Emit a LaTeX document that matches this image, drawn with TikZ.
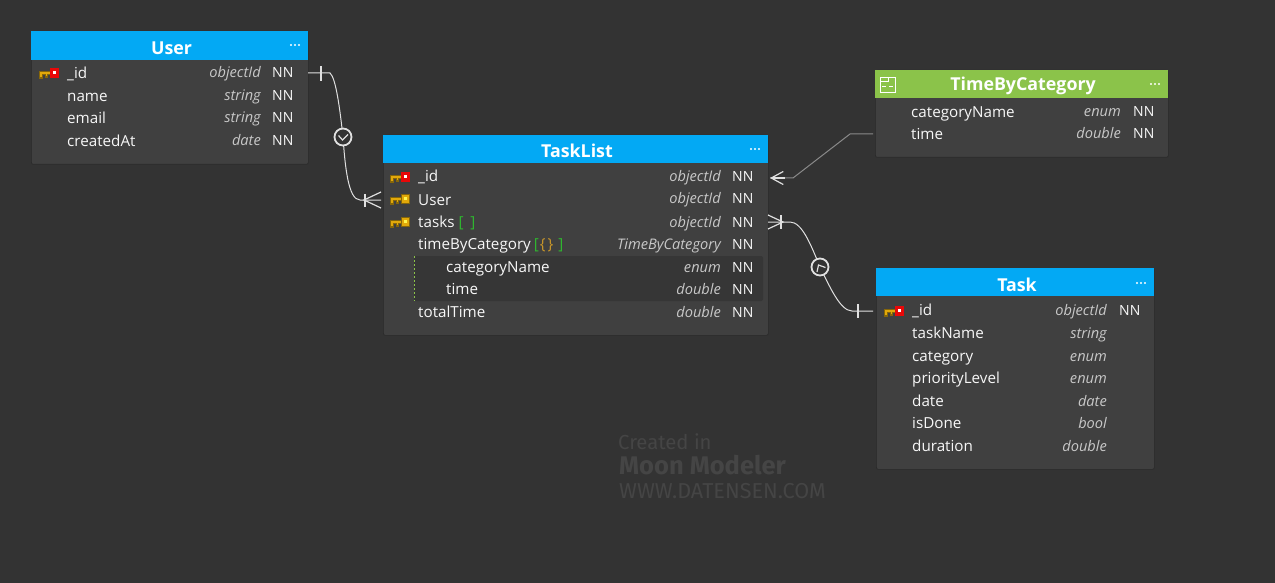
\documentclass[tikz,border=0pt]{standalone}
\usepackage{fontspec}
\setmainfont{Open Sans}
\newfontfamily\markfont{Fira Sans}
\usetikzlibrary{calc,positioning,arrows.meta}
\definecolor{canvas}{HTML}{333333}
\definecolor{tablebody}{HTML}{404040}
\definecolor{tableedge}{HTML}{2A2A2A}
\definecolor{nestpanel}{HTML}{363636}
\definecolor{hdrblue}{HTML}{03A9F4}
\definecolor{hdrgreen}{HTML}{8BC34A}
\definecolor{rowtext}{HTML}{F7F7F7}
\definecolor{typetext}{HTML}{C8C8C8}
\definecolor{relline}{HTML}{E0E0E0}
\definecolor{refline}{HTML}{8A8A8A}
\definecolor{brgreen}{HTML}{2FB62F}
\definecolor{brgold}{HTML}{C8962A}
\definecolor{keygold}{HTML}{E2A90A}
\definecolor{keydark}{HTML}{86660A}
\definecolor{keyred}{HTML}{E80808}
\definecolor{watermark}{HTML}{454545}
\tikzset{
  tablebox/.style={draw=tableedge,line width=0.7pt,fill=tablebody,rounded corners=2pt,anchor=north west,inner sep=0pt},
  header/.style={anchor=north west,inner sep=0pt},
  title/.style={text=white,font=\fontsize{17.8}{20}\selectfont\bfseries,inner sep=0pt},
  colname/.style={anchor=base west,inner sep=0pt,text=rowtext,font=\fontsize{15.2}{18}\selectfont},
  coltype/.style={anchor=base east,inner sep=0pt,text=typetext,font=\fontsize{14.6}{18}\selectfont\itshape},
  colnn/.style={anchor=base west,inner sep=0pt,text=rowtext,font=\fontsize{14}{18}\selectfont},
  optmark/.style={circle,draw=relline,line width=1.8pt,fill=canvas,minimum size=17pt,inner sep=0pt},
  rel/.style={draw=relline,line width=1pt},
  cardmark/.style={draw=relline,line width=1.2pt},
  pics/keybase/.style={code={
    \fill[keydark] (0,-2) rectangle (13,2);
    \fill[keydark] (0,2) rectangle (4,6);
    \fill[keydark] (6,2) rectangle (9,5);
    \fill[keygold] (1,-1) rectangle (12,1);
    \fill[keygold] (1,1) rectangle (3,4);
    \fill[keygold] (7,1) rectangle (8,3);
  }},
  pics/keypk/.style={code={
    \pic {keybase};
    \fill[keyred] (11,-5) rectangle (20,5);
    \fill[white] (14,-2) rectangle (17,1);
  }},
  pics/keyfk/.style={code={
    \pic {keybase};
    \fill[keydark] (11,-5) rectangle (20,5);
    \fill[keygold] (12,-4) rectangle (19,4);
    \fill[yellow!70!white] (14,-2) rectangle (17,1);
  }},
  pics/menudots/.style={code={
    \fill[white] (-4,0) circle (1.1pt);
    \fill[white] (0,0) circle (1.1pt);
    \fill[white] (4,0) circle (1.1pt);
  }}
}

\begin{document}
\begin{tikzpicture}[x=1pt,y=-1pt]
        \fill[canvas] (0,0) rectangle (1275,583);
        \useasboundingbox (0,0) rectangle (1275,583);

        % watermark
        \node (markA) at (618,449) [anchor=base west,inner sep=0pt,text=watermark,font=\markfont\fontsize{20.3}{24}\selectfont] {Created in};
        \node (markB) at (619,474) [anchor=base west,inner sep=0pt,text=watermark,font=\markfont\fontsize{25.5}{28}\selectfont\bfseries] {Moon Modeler};
        \node (markC) at (619,498) [anchor=base west,inner sep=0pt,text=watermark,font=\markfont\fontsize{21.6}{24}\selectfont] {WWW.DATENSEN.COM};

        % tables
        \node (User) at (31,31) [tablebox,minimum width=277pt,minimum height=133pt] {};
        \node (UserHead) at (31,31) [header,fill=hdrblue,minimum width=277pt,minimum height=29pt] {};
        \node (UserTitle) at (171.5,48) [title] {User};
        \pic at (295,45) {menudots};

        \node (TaskList) at (383,135) [tablebox,minimum width=385pt,minimum height=200pt] {};
        \node (TaskListHead) at (383,135) [header,fill=hdrblue,minimum width=385pt,minimum height=28pt] {};
        \node (TaskListTitle) at (577,151) [title] {TaskList};
        \pic at (755,149) {menudots};

        \node (TimeCat) at (875,70) [tablebox,minimum width=293pt,minimum height=87pt] {};
        \node (TimeCatHead) at (875,70) [header,fill=hdrgreen,minimum width=293pt,minimum height=28pt] {};
        \node (TimeCatTitle) at (1023,86) [title] {TimeByCategory};
        \pic at (1155,84) {menudots};

        \node (Task) at (876,268) [tablebox,minimum width=278pt,minimum height=201pt] {};
        \node (TaskHead) at (876,268) [header,fill=hdrblue,minimum width=278pt,minimum height=28pt] {};
        \node (TaskTitle) at (1017,285) [title] {Task};
        \pic at (1141,283) {menudots};

        % embedded type icon
        \draw[white,line width=0.8pt] (880,77) rectangle (895,92);
        \draw[white,line width=0.8pt] (880,81) -- (888,81) -- (888,77);
        \draw[white,line width=0.8pt] (882,86) -- (886,86) (889,86) -- (893,86);

        % User rows
        \pic at (39,73) {keypk};
        \node (UserId) at (67,79) [colname] {\_id};
        \node (UserIdT) at (261,78) [coltype] {objectId};
        \node (UserIdN) at (272,78) [colnn] {NN};
        \node (UserName) at (67,102) [colname] {name};
        \node (UserNameT) at (261,101) [coltype] {string};
        \node (UserNameN) at (272,101) [colnn] {NN};
        \node (UserMail) at (67,124) [colname] {email};
        \node (UserMailT) at (261,123) [coltype] {string};
        \node (UserMailN) at (272,123) [colnn] {NN};
        \node (UserAt) at (67,147) [colname] {createdAt};
        \node (UserAtT) at (261,146) [coltype] {date};
        \node (UserAtN) at (272,146) [colnn] {NN};

        % TaskList rows
        \fill[nestpanel,rounded corners=2pt] (414,256) rectangle (763,301);
        \draw[hdrgreen,dash pattern=on 2pt off 2pt,line width=0.8pt] (414,256) -- (414,301);
        \pic at (390,177) {keypk};
        \pic at (390,199) {keyfk};
        \pic at (390,222) {keyfk};
        \node (ListId) at (418,182) [colname] {\_id};
        \node (ListIdT) at (721,182) [coltype] {objectId};
        \node (ListIdN) at (732,182) [colnn] {NN};
        \node (ListUser) at (418,205) [colname] {User};
        \node (ListUserT) at (721,204) [coltype] {objectId};
        \node (ListUserN) at (732,204) [colnn] {NN};
        \node (ListTasks) at (418,227) [colname] {tasks\hspace{4pt}{\color{brgreen}[\hspace{7pt}]}};
        \node (ListTasksT) at (721,227) [coltype] {objectId};
        \node (ListTasksN) at (732,227) [colnn] {NN};
        \node (ListCat) at (418,249) [colname] {timeByCategory\hspace{3pt}{\color{brgreen}[}\hspace{1pt}{\color{brgold}\{\hspace{2pt}\}}\hspace{5pt}{\color{brgreen}]}};
        \node (ListCatT) at (721,249) [coltype] {TimeByCategory};
        \node (ListCatN) at (732,249) [colnn] {NN};
        \node (ListSubA) at (446,272) [colname] {categoryName};
        \node (ListSubAT) at (721,272) [coltype] {enum};
        \node (ListSubAN) at (732,272) [colnn] {NN};
        \node (ListSubB) at (446,294) [colname] {time};
        \node (ListSubBT) at (721,294) [coltype] {double};
        \node (ListSubBN) at (732,294) [colnn] {NN};
        \node (ListTotal) at (418,317) [colname] {totalTime};
        \node (ListTotalT) at (721,317) [coltype] {double};
        \node (ListTotalN) at (732,317) [colnn] {NN};

        % TimeByCategory rows
        \node (CatName) at (911,118) [colname] {categoryName};
        \node (CatNameT) at (1121,117) [coltype] {enum};
        \node (CatNameN) at (1133,117) [colnn] {NN};
        \node (CatTime) at (911,140) [colname] {time};
        \node (CatTimeT) at (1121,139) [coltype] {double};
        \node (CatTimeN) at (1133,139) [colnn] {NN};

        % Task rows
        \pic at (884,311) {keypk};
        \node (TaskId) at (912,315) [colname] {\_id};
        \node (TaskIdT) at (1107,315) [coltype] {objectId};
        \node (TaskIdN) at (1119,315) [colnn] {NN};
        \node (TaskName) at (912,338) [colname] {taskName};
        \node (TaskNameT) at (1107,338) [coltype] {string};
        \node (TaskCat) at (912,361) [colname] {category};
        \node (TaskCatT) at (1107,361) [coltype] {enum};
        \node (TaskPrio) at (912,383) [colname] {priorityLevel};
        \node (TaskPrioT) at (1107,383) [coltype] {enum};
        \node (TaskDate) at (912,406) [colname] {date};
        \node (TaskDateT) at (1107,406) [coltype] {date};
        \node (TaskDone) at (912,428) [colname] {isDone};
        \node (TaskDoneT) at (1107,428) [coltype] {bool};
        \node (TaskDur) at (912,451) [colname] {duration};
        \node (TaskDurT) at (1107,451) [coltype] {double};

        % ports
        \coordinate (UserPort) at (308,73);
        \coordinate (ListUserPort) at (381,200);
        \coordinate (ListIdPort) at (770,178);
        \coordinate (CatTimePort) at (873,134);
        \coordinate (ListTasksPort) at (768,222);
        \coordinate (TaskIdPort) at (873,311);

        % optional marks
        \coordinate (OptAc) at (343,137);
        \coordinate (OptBc) at (820,267);

        % relations
        \draw[rel] (UserPort) -- (330,73) .. controls (336,78) and (340,110) .. (OptAc);
        \draw[rel] (OptAc) .. controls (345,165) and (348,200) .. (360,200) -- (ListUserPort);
        \draw[rel] (ListTasksPort) -- (790,222) .. controls (802,222) and (811,245) .. (OptBc);
        \draw[rel] (OptBc) .. controls (829,285) and (840,311) .. (852,311) -- (TaskIdPort);
        \draw[draw=refline,line width=1pt] (CatTimePort) -- (850,134) -- (793,178) -- (ListIdPort);
        \draw[cardmark,-{Straight Barb[length=12pt,width=13pt]}] (785,178) -- (ListIdPort);

        \node (OptA) at (OptAc) [optmark] {};
        \node (OptB) at (OptBc) [optmark] {};
        \draw[cardmark] ($(OptA)+(-4.5,-1.5)$) -- ($(OptA)+(-0.5,3)$) -- ($(OptA)+(5,-2.5)$);
        \draw[cardmark] ($(OptB)+(-3,5)$) -- ($(OptB)+(-1.5,-2)$) -- ($(OptB)+(5.5,0.5)$);

        % cardinality marks
        \draw[cardmark] (321,66) -- (321,81);
        \draw[cardmark] (365,194) -- (365,207);
        \draw[cardmark] (381,192) -- (364,200) -- (381,208);
        \draw[cardmark] (781,215) -- (781,229);
        \draw[cardmark] (768,215) -- (783,222) -- (768,229);
        \draw[cardmark] (858,304) -- (858,318);
    \end{tikzpicture}
\end{document}
